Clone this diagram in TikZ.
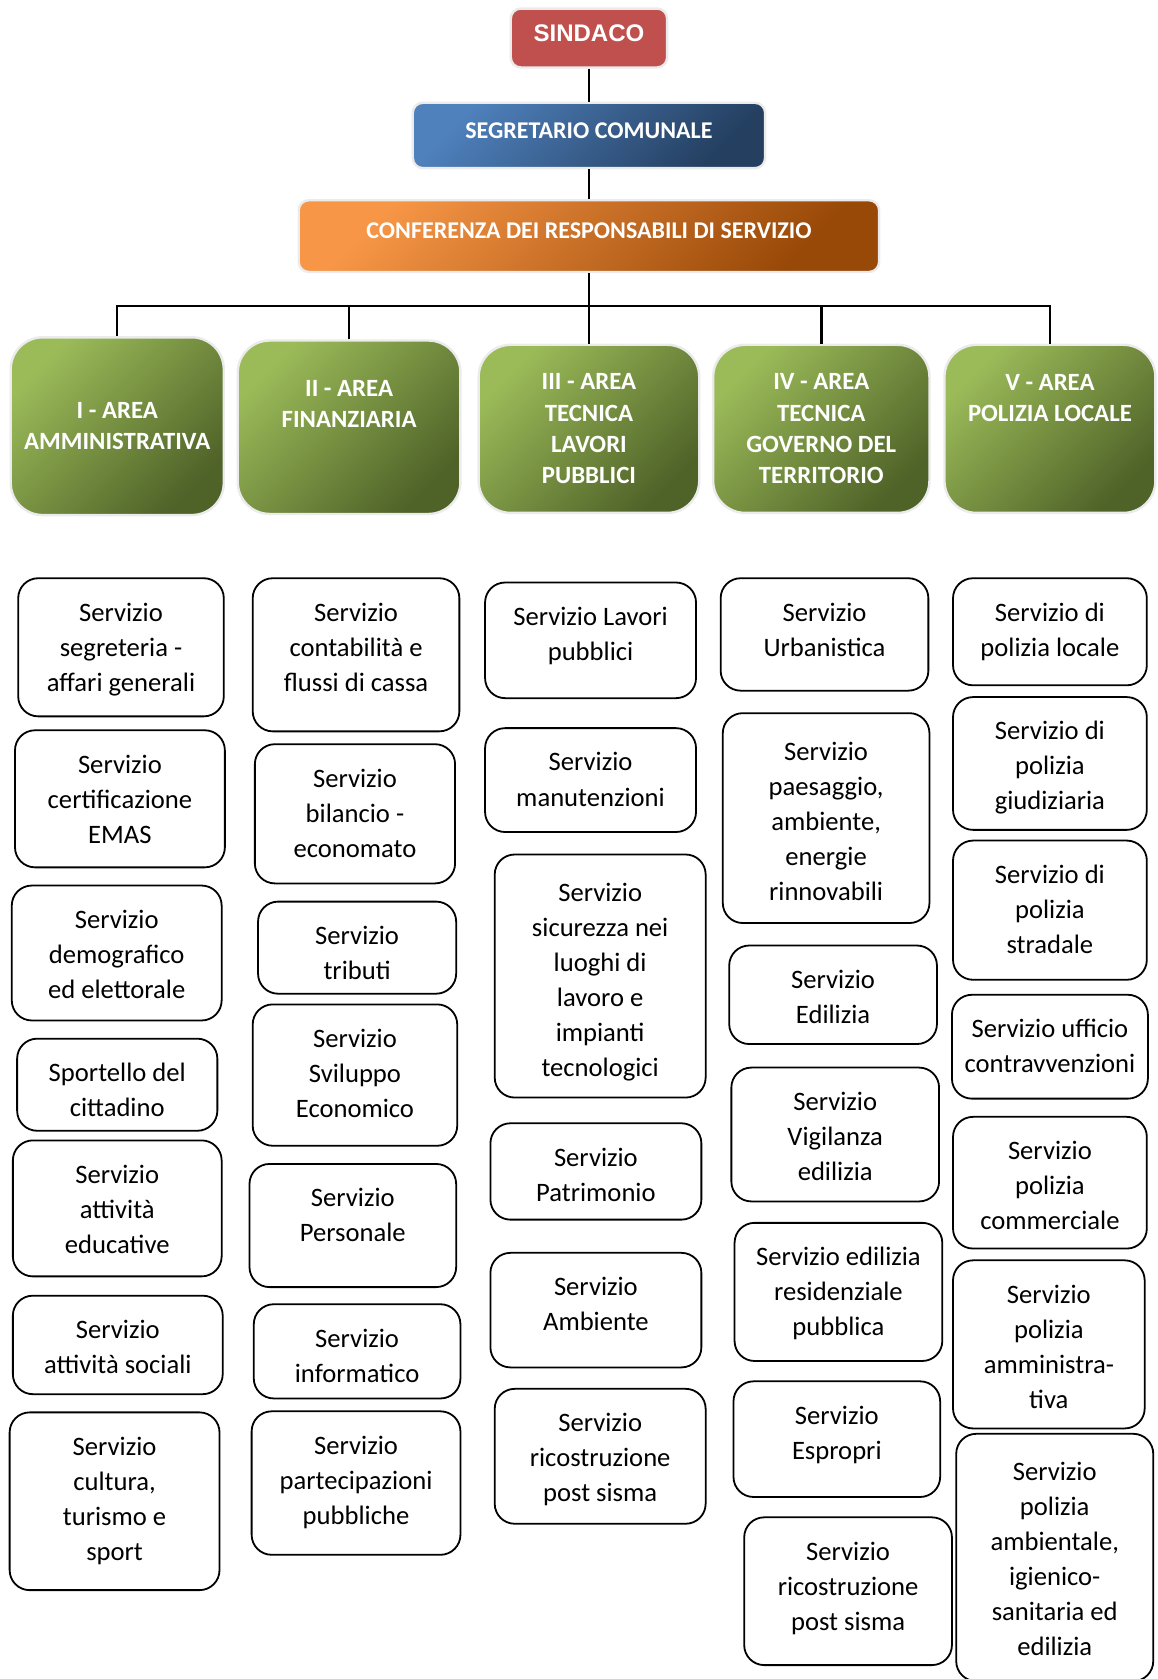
\documentclass[tikz,border=0pt]{standalone}
\usepackage{fontspec}
\setmainfont{Carlito}
\newfontfamily\mayorfont{Liberation Sans}
\usepackage{tikz}
\definecolor{mayorred}{HTML}{C0504D}
\definecolor{segblue}{HTML}{4F81BD}
\definecolor{segbluedark}{HTML}{243F60}
\definecolor{confor}{HTML}{F79646}
\definecolor{confordark}{HTML}{984807}
\definecolor{areagreen}{HTML}{9BBB59}
\definecolor{areagreendark}{HTML}{4F6228}
\tikzset{
  headbox/.style={
    rounded corners=5pt, draw=black!8, line width=1.2pt,
    text=white, align=center, text depth=5pt,
    font=\fontsize{12}{14}\selectfont\bfseries
  },
  areabox/.style={
    rounded corners=16pt, draw=black!8, line width=1.2pt,
    top color=areagreen, bottom color=areagreendark, shading angle=45,
    text=white, align=center,
    font=\fontsize{12.4}{15.6}\selectfont\bfseries
  },
  svcbox/.style={
    rectangle, rounded corners=10pt, draw=black, line width=0.9pt,
    fill=white, align=flush center, text width=92pt, inner xsep=0pt, inner ysep=0pt,
    font=\fontsize{13.3}{17.5}\selectfont
  },
  boxsize/.style 2 args={minimum width=#1*0.535pt, minimum height=#2*0.535pt},
  svcsize/.style 2 args={boxsize={#1}{#2}, text height=21.4pt, text depth=#2*0.535pt-21.4pt},
  svctall/.style 2 args={boxsize={#1}{#2}, text height=23.5pt, text depth=#2*0.535pt-23.5pt},
  link/.style={draw=black, line width=1.2pt},
}
\begin{document}
\begin{tikzpicture}[x=0.535pt, y=-0.535pt]
  \useasboundingbox (0,0) rectangle (1081,1568);
  \clip (0,0) rectangle (1081,1568);

  \node[headbox, fill=mayorred, boxsize={146}{55},
        font=\mayorfont\fontsize{12}{14}\selectfont\bfseries] (sindaco) at (550,35.5) {SINDACO};
  \node[headbox, top color=segblue, bottom color=segbluedark, shading angle=45,
        boxsize={329}{61}] (segr) at (550,126.5) {SEGRETARIO COMUNALE};
  \node[headbox, top color=confor, bottom color=confordark, shading angle=45,
        boxsize={542}{67}] (conf) at (550,220.5) {CONFERENZA DEI RESPONSABILI DI SERVIZIO};

  \node[areabox, boxsize={199}{166}] (amm) at (109.5,398) {I - AREA\\AMMINISTRATIVA};
  \node[areabox, boxsize={208}{162}] (fin) at (326,399) {II - AREA\\FINANZIARIA\\[8pt]~};
  \node[areabox, boxsize={206}{157}] (lp) at (550,400.5) {III - AREA\\TECNICA\\LAVORI\\PUBBLICI};
  \node[areabox, boxsize={202}{157}] (gov) at (767,400.5) {IV - AREA\\TECNICA\\GOVERNO DEL\\TERRITORIO};
  \node[areabox, boxsize={197}{157}] (pol) at (980.5,400.5) {V - AREA\\POLIZIA LOCALE\\~\\~};

  \coordinate (bus) at (550,286);
  \draw[link] (sindaco) -- (segr);
  \draw[link] (segr) -- (conf);
  \draw[link] (conf) -- (lp);
  \draw[link] (amm) |- (bus) -| (pol);
  \draw[link] (fin) -- (fin |- bus);
  \draw[link] (gov) -- (gov |- bus);

  \node[svcbox, svcsize={192}{129}] (amm1) at (113,604.5) {Servizio\\segreteria -\\affari generali};
  \node[svcbox, svcsize={196}{128}] (amm2) at (112,746) {Servizio\\certificazione\\EMAS};
  \node[svcbox, svcsize={196}{126}] (amm3) at (109,890) {Servizio\\demografico\\ed elettorale};
  \node[svcbox, svcsize={187}{86}] (amm4) at (109.5,1013) {Sportello del\\cittadino};
  \node[svcbox, svcsize={195}{127}] (amm5) at (109.5,1128.5) {Servizio\\attività\\educative};
  \node[svcbox, svcsize={196}{92}] (amm6) at (110,1256) {Servizio\\attività sociali};
  \node[svcbox, svcsize={196}{166}] (amm7) at (107,1402) {Servizio\\cultura,\\turismo e\\sport};

  \node[svcbox, svcsize={193}{143}] (fin1) at (332.5,611.5) {Servizio\\contabilità e\\flussi di cassa};
  \node[svcbox, svcsize={187}{130}] (fin2) at (331.5,760) {Servizio\\bilancio -\\economato};
  \node[svcbox, svcsize={185}{86}] (fin3) at (333.5,885) {Servizio\\tributi};
  \node[svcbox, svcsize={191}{132}] (fin4) at (331.5,1004) {Servizio\\Sviluppo\\Economico};
  \node[svcbox, svcsize={193}{115}] (fin5) at (329.5,1144.5) {Servizio\\Personale};
  \node[svcbox, svcsize={193}{88}] (fin6) at (333.5,1262) {Servizio\\informatico};
  \node[svcbox, svcsize={195}{134}] (fin7) at (332.5,1385) {Servizio\\partecipazioni\\pubbliche};

  \node[svcbox, svcsize={197}{108}] (lp1) at (551.5,598) {Servizio Lavori\\pubblici};
  \node[svcbox, svcsize={197}{97}] (lp2) at (551.5,728.5) {Servizio\\manutenzioni};
  \node[svcbox, svctall={197}{227}] (lp3) at (560.5,911.5) {Servizio\\sicurezza nei\\luoghi di\\lavoro e\\impianti\\tecnologici};
  \node[svcbox, svcsize={197}{90}] (lp4) at (556.5,1094) {Servizio\\Patrimonio};
  \node[svcbox, svcsize={197}{107}] (lp5) at (556.5,1223.5) {Servizio\\Ambiente};
  \node[svcbox, svcsize={197}{126}] (lp6) at (560.5,1360) {Servizio\\ricostruzione\\post sisma};

  \node[svcbox, svcsize={194}{105}] (gov1) at (770,592.5) {Servizio\\Urbanistica};
  \node[svcbox, svctall={193}{196}] (gov2) at (771.5,764) {Servizio\\paesaggio,\\ambiente,\\energie\\rinnovabili};
  \node[svcbox, svcsize={194}{92}] (gov3) at (778,929) {Servizio\\Edilizia};
  \node[svcbox, svcsize={194}{125}] (gov4) at (780,1059.5) {Servizio\\Vigilanza\\edilizia};
  \node[svcbox, svcsize={194}{129}] (gov5) at (783,1206.5) {Servizio edilizia\\residenziale\\pubblica};
  \node[svcbox, svcsize={193}{108}] (gov6) at (781.5,1344) {Servizio\\Espropri};
  \node[svcbox, svcsize={194}{138}] (gov7) at (792,1486) {Servizio\\ricostruzione\\post sisma};

  \node[svcbox, svcsize={181}{100}] (pol1) at (980.5,590) {Servizio di\\polizia locale};
  \node[svcbox, svcsize={181}{124}] (pol2) at (980.5,713) {Servizio di\\polizia\\giudiziaria};
  \node[svcbox, svcsize={181}{130}] (pol3) at (980.5,850) {Servizio di\\polizia\\stradale};
  \node[svcbox, svcsize={183}{97}] (pol4) at (980.5,977.5) {Servizio ufficio\\contravvenzioni};
  \node[svcbox, svcsize={181}{123}] (pol5) at (980.5,1104.5) {Servizio\\polizia\\commerciale};
  \node[svcbox, svcsize={179}{157}] (pol6) at (979.5,1255.5) {Servizio\\polizia\\amministra-\\tiva};
  \node[svcbox, svctall={184}{231}] (pol7) at (985,1454.5) {Servizio\\polizia\\ambientale,\\igienico-\\sanitaria ed\\edilizia};
\end{tikzpicture}
\end{document}
